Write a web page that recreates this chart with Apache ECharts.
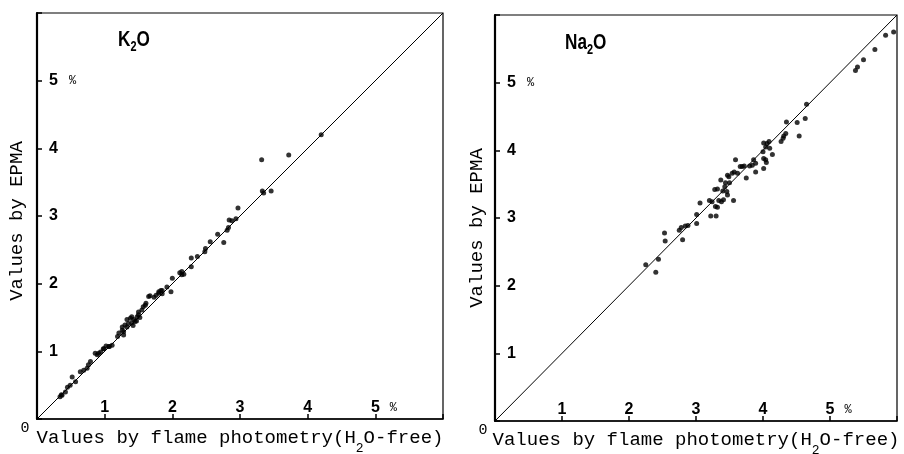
<!DOCTYPE html>
<html><head><meta charset="utf-8">
<script src="https://cdn.jsdelivr.net/npm/echarts@6/dist/echarts.min.js"></script>
<style>html,body{margin:0;padding:0;background:#fff}#c{width:904px;height:454px}</style>
</head><body><div id="c"></div>
<script>
// ---- data ----
const tickValues = [1, 2, 3, 4, 5];
const percentTick = 5;
const axisMin = 0;
const axisMax = 6;
const identityLine = [[0, 0], [6, 6]];

const k2oFlame = [0.34,0.37,0.36,0.42,0.45,0.49,0.52,0.57,0.64,0.69,0.74,0.76,0.79,0.86,0.89,0.91,0.94,0.98,0.99,1.02,1.06,1.07,1.11,1.19,1.21,1.26,1.28,1.26,1.28,1.30,1.33,1.35,1.33,1.38,1.40,1.40,1.43,1.45,1.42,1.47,1.48,1.50,1.50,1.52,1.55,1.57,1.60,1.61,1.65,1.67,1.73,1.76,1.80,1.80,1.83,1.85,1.85,1.92,1.98,2.00,2.11,2.14,2.17,2.14,2.28,2.28,2.37,2.48,2.49,2.56,2.67,2.76,2.81,2.83,2.84,2.88,2.94,2.97,3.32,3.33,3.35,3.46,3.72,4.20];
const k2oEpma  = [0.33,0.35,0.36,0.40,0.47,0.50,0.62,0.55,0.70,0.72,0.75,0.80,0.85,0.97,0.95,0.97,0.99,1.04,1.04,1.08,1.07,1.07,1.09,1.22,1.27,1.31,1.29,1.36,1.24,1.39,1.36,1.41,1.47,1.49,1.42,1.51,1.47,1.44,1.38,1.45,1.51,1.54,1.58,1.50,1.61,1.66,1.68,1.71,1.81,1.82,1.80,1.83,1.86,1.88,1.90,1.85,1.90,1.95,1.88,2.08,2.16,2.18,2.14,2.13,2.25,2.38,2.40,2.47,2.52,2.62,2.73,2.61,2.79,2.83,2.94,2.93,2.96,3.12,3.83,3.37,3.34,3.37,3.90,4.20];

const na2oFlame = [2.25,2.40,2.44,2.53,2.54,2.80,2.75,2.78,2.84,2.88,3.01,3.01,3.06,3.22,3.30,3.20,3.24,3.28,3.32,3.29,3.32,3.34,3.38,3.41,3.37,3.43,3.46,3.47,3.44,3.49,3.47,3.56,3.54,3.57,3.59,3.62,3.66,3.69,3.72,3.75,3.80,3.84,3.86,3.89,3.89,4.01,4.01,4.04,4.00,4.04,4.06,4.09,4.01,4.10,4.14,4.05,4.27,4.30,4.34,4.35,4.31,4.51,4.54,4.63,4.65,5.38,5.41,5.50,5.67,5.83,5.95,3.40,3.50];
const na2oEpma  = [2.31,2.20,2.39,2.78,2.66,2.68,2.82,2.86,2.88,2.89,2.92,3.05,3.22,3.03,3.03,3.26,3.24,3.42,3.43,3.17,3.16,3.26,3.24,3.27,3.56,3.46,3.39,3.34,3.52,3.61,3.63,3.26,3.66,3.68,3.86,3.66,3.76,3.76,3.77,3.59,3.77,3.78,3.86,3.81,3.68,3.73,3.88,3.86,3.98,4.05,4.10,4.13,4.11,4.03,3.94,3.82,4.13,4.18,4.25,4.42,4.21,4.41,4.21,4.47,4.68,5.18,5.23,5.34,5.49,5.70,5.75,3.40,3.52];

const panelTitles = [['K', '2', 'O'], ['Na', '2', 'O']];
const xName = ['Values by flame photometry(H', '2', 'O-free)'];
const yName = 'Values by EPMA';
const originLabel = '0';

// ---- styling ----
const NARROW = '"Liberation Sans Narrow","Liberation Sans",sans-serif';
const MONO = '"Liberation Mono","DejaVu Sans Mono",monospace';

const labelRich = {
  n: { fontFamily: NARROW, fontWeight: 'bold', fontSize: 16, color: '#000' },
  p: { fontFamily: MONO, fontSize: 12, color: '#000', padding: [0, 0, 0, 10] },
  h: { fontFamily: MONO, fontSize: 12, color: 'rgba(0,0,0,0)', padding: [0, 10, 0, 0] },
  q: { fontFamily: MONO, fontSize: 12, color: '#000', padding: [0, 0, 0, 11] }
};
function xFmt(v) {
  if (!tickValues.includes(v)) return '';
  return v === percentTick ? '{h|%}{n|' + v + '}{p|%}' : '{n|' + v + '}';
}
function yFmt(v) {
  if (!tickValues.includes(v)) return '';
  return v === percentTick ? '{n|' + v + '}{q|%}' : '{n|' + v + '}';
}
const nameRich = {
  m: { fontFamily: MONO, fontSize: 19, lineHeight: 19, verticalAlign: 'top', color: '#000' },
  s: { fontFamily: MONO, fontSize: 13, lineHeight: 27.5, verticalAlign: 'bottom', color: '#000' }
};
const titleRich = {
  m: { font: 'bold 22px ' + NARROW, lineHeight: 22, verticalAlign: 'top', fill: '#000' },
  s: { font: 'bold 14px ' + NARROW, lineHeight: 25, verticalAlign: 'bottom', fill: '#000' }
};

function xAxis(gi) {
  return {
    type: 'value', gridIndex: gi, min: axisMin, max: axisMax, interval: 1,
    name: '{m|' + xName[0] + '}{s|' + xName[1] + '}{m|' + xName[2] + '}',
    nameLocation: 'middle', nameGap: 9,
    nameTextStyle: { rich: nameRich },
    axisLine: { show: true, onZero: false, lineStyle: { color: '#000', width: 1.5 } },
    axisTick: { show: true, inside: true, length: 5, lineStyle: { color: '#000', width: 1.5 } },
    axisLabel: { inside: true, margin: 3, formatter: xFmt, rich: labelRich, showMinLabel: true, showMaxLabel: true },
    splitLine: { show: false }
  };
}
function yAxis(gi, gap, shift) {
  return {
    type: 'value', gridIndex: gi, min: axisMin, max: axisMax, interval: 1,
    name: yName, nameLocation: 'middle', nameGap: gap,
    nameTextStyle: { fontFamily: MONO, fontSize: 19, color: '#000', padding: [0, shift, 0, 0] },
    axisLine: { show: true, onZero: false, lineStyle: { color: '#000', width: 2.2 } },
    axisTick: { show: true, inside: true, length: 5, lineStyle: { color: '#000', width: 1.5 } },
    axisLabel: { inside: true, margin: 12, formatter: yFmt, rich: labelRich },
    splitLine: { show: false }
  };
}
function zip(a, b) { return a.map((v, i) => [v, b[i]]); }
function titleText(parts) { return '{m|' + parts[0] + '}{s|' + parts[1] + '}{m|' + parts[2] + '}'; }

const gridBase = { show: true, borderColor: '#000', borderWidth: 1.2, backgroundColor: 'transparent', containLabel: false, outerBoundsMode: 'none' };

const chart = echarts.init(document.getElementById('c'), null, { renderer: 'canvas' });
chart.setOption({
  animation: false,
  backgroundColor: '#fff',
  grid: [
    Object.assign({ left: 37, top: 13, width: 406, height: 406 }, gridBase),
    Object.assign({ left: 495, top: 15, width: 402, height: 406 }, gridBase)
  ],
  xAxis: [xAxis(0), xAxis(1)],
  yAxis: [yAxis(0, 11, 10), yAxis(1, 9, 20)],
  series: [
    { type: 'line', xAxisIndex: 0, yAxisIndex: 0, data: identityLine, showSymbol: false, lineStyle: { color: '#000', width: 1 }, silent: true },
    { type: 'line', xAxisIndex: 1, yAxisIndex: 1, data: identityLine, showSymbol: false, lineStyle: { color: '#000', width: 1 }, silent: true },
    { type: 'scatter', xAxisIndex: 0, yAxisIndex: 0, data: zip(k2oFlame, k2oEpma), symbolSize: 5, itemStyle: { color: '#000' } },
    { type: 'scatter', xAxisIndex: 1, yAxisIndex: 1, data: zip(na2oFlame, na2oEpma), symbolSize: 5, itemStyle: { color: '#000' } }
  ]
});
const o0 = chart.convertToPixel({ gridIndex: 0 }, [0, 0]);
const o1 = chart.convertToPixel({ gridIndex: 1 }, [0, 0]);
const titlePos = [[118, 29], [565, 32]];
chart.setOption({
  graphic: [o0, o1].map(p => ({
    type: 'text', x: p[0] - 12, y: p[1] + 9,
    style: { text: originLabel, font: '15px ' + MONO, fill: '#000', align: 'center', verticalAlign: 'middle' }
  })).concat(panelTitles.map((t, i) => ({
    type: 'text', x: titlePos[i][0], y: titlePos[i][1], scaleX: 0.78,
    style: { text: titleText(t), rich: titleRich, align: 'left', verticalAlign: 'top' }
  })))
});
</script></body></html>
